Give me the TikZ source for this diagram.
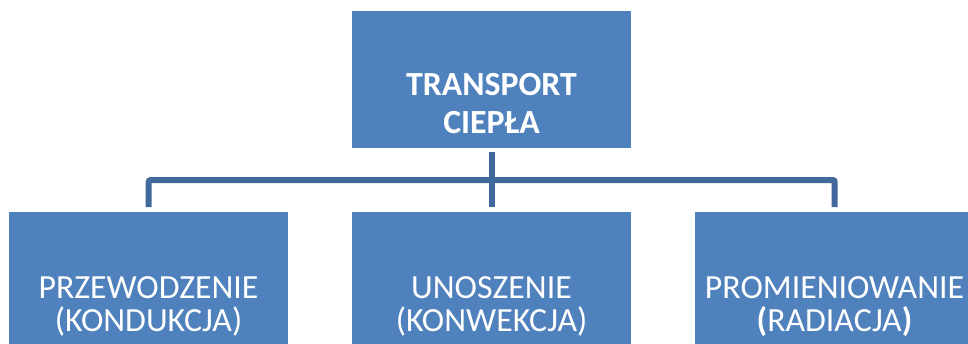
\documentclass[tikz,border=0pt]{standalone}
\usepackage{fontspec}
\setmainfont{Carlito}
\definecolor{boxblue}{HTML}{4F81BD}
\definecolor{linkblue}{HTML}{41699B}
\begin{document}
\begin{tikzpicture}[x=1pt,y=-1pt,
  box/.style={fill=boxblue, draw=none, minimum width=279pt, minimum height=137pt, inner sep=0pt, anchor=north west},
  lbl/.style={text=white, align=center, anchor=base, inner sep=0pt, font=\fontsize{33.8}{33}\selectfont},
  toplbl/.style={lbl, font=\bfseries\fontsize{33.8}{38}\selectfont},
  link/.style={draw=linkblue, line width=6pt, rounded corners=2pt}]
\path[use as bounding box] (0,0) rectangle (968,343);
\clip (0,0) rectangle (968,343);
\node[box] (top) at (352,11) {};
\node[box] (left) at (9,212) {};
\node[box] (mid) at (352,212) {};
\node[box] (right) at (695,212) {};
\coordinate (j) at (491.5,180);
\draw[link, shorten <=4pt, shorten >=5pt] (top.south) -- (mid.north);
\draw[link, shorten <=5pt, shorten >=5pt] (left.north) |- (j) -| (right.north);
\node[toplbl] (t0) at (491.5,133) {TRANSPORT\\CIEPŁA};
\node[lbl] (t1) at (148.5,331) {PRZEWODZENIE\\(KONDUKCJA)};
\node[lbl] (t2) at (491.5,331) {UNOSZENIE\\(KONWEKCJA)};
\node[lbl] (t3) at (834.5,331) {PROMIENIOWANIE\\{\bfseries(}RADIACJA{\bfseries)}};
\end{tikzpicture}
\end{document}
